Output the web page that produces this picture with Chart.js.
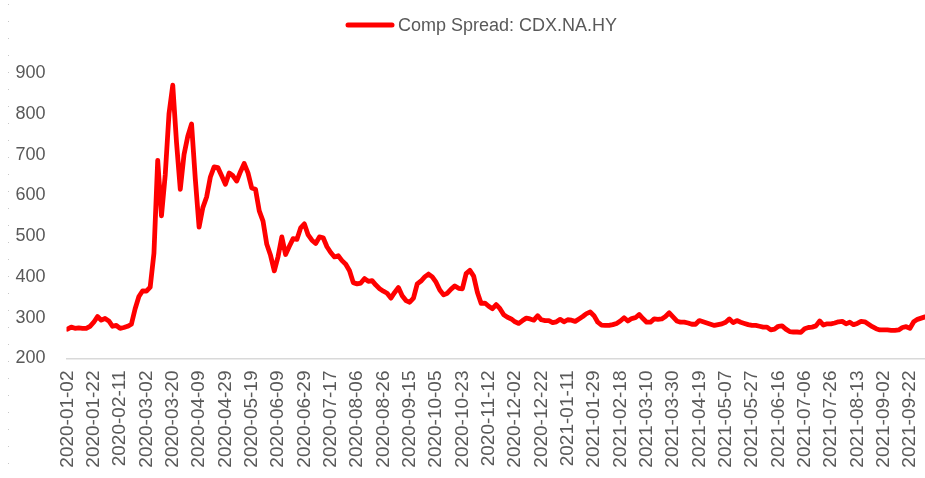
<!DOCTYPE html>
<html>
<head>
<meta charset="utf-8">
<script src="https://cdn.jsdelivr.net/npm/chart.js@4"></script>
<style>
  html, body { margin: 0; padding: 0; background: #ffffff; }
  #wrap { width: 925px; height: 478px; position: relative; }
</style>
</head>
<body>
<div id="wrap"><canvas id="c" width="925" height="478"></canvas></div>
<script>
// Series name
const seriesName = 'Comp Spread: CDX.NA.HY';

// X tick labels (every 7th sample, samples are every 2nd trading day)
const tickLabels = [
  '2020-01-02','2020-01-22','2020-02-11','2020-03-02','2020-03-20','2020-04-09',
  '2020-04-29','2020-05-19','2020-06-09','2020-06-29','2020-07-17','2020-08-06',
  '2020-08-26','2020-09-15','2020-10-05','2020-10-23','2020-11-12','2020-12-02',
  '2020-12-22','2021-01-11','2021-01-29','2021-02-18','2021-03-10','2021-03-30',
  '2021-04-19','2021-05-07','2021-05-27','2021-06-16','2021-07-06','2021-07-26',
  '2021-08-13','2021-09-02','2021-09-22'
];
const samplesPerTick = 7;

// Y axis ticks
const yTicks = [200, 300, 400, 500, 600, 700, 800, 900];

// Spread values (bp), one per 2 trading days
const spreadValues = [
  272,277,274,275,274,274,279,289,303,294,298,292,279,281,274,276,279,284,322,352,
  366,365,375,458,686,550,650,800,870,730,615,700,745,775,640,522,570,596,645,670,
  668,648,627,655,648,635,658,678,655,618,615,562,537,480,453,415,450,498,455,475,
  494,492,520,530,503,490,482,498,496,474,460,449,452,440,431,415,386,383,385,396,
  389,391,380,371,365,360,348,362,374,354,342,338,348,383,390,400,407,400,387,368,
  356,360,370,378,372,371,408,416,402,362,335,336,328,322,332,322,307,301,297,290,
  286,293,299,297,294,305,295,293,293,288,290,296,290,295,294,291,297,303,310,314,
  305,289,282,281,281,283,286,292,300,292,298,300,308,298,289,289,297,296,297,303,
  312,302,292,289,289,287,284,284,293,290,287,284,281,283,285,289,297,288,293,289,
  286,283,281,281,279,277,277,270,272,279,280,272,266,265,265,264,273,276,277,280,
  292,282,285,285,287,290,291,285,289,283,286,291,290,284,278,273,270,270,270,269,
  269,270,276,278,274,290,296,299,302
];

const FONT = "'Liberation Sans', Arial, sans-serif";
const TEXT_COLOR = '#595959';
const LINE_COLOR = '#ff0000';

const points = spreadValues.map((v, i) => ({ x: i, y: v }));

const legendPlugin = {
  id: 'customLegend',
  afterDraw(chart) {
    const ctx = chart.ctx;
    ctx.save();
    // dotted border on left edge (as in the reference screenshot)
    ctx.strokeStyle = '#c8c8c8';
    ctx.lineWidth = 1;
    ctx.setLineDash([1, 16]);
    ctx.beginPath();
    ctx.moveTo(8.5, 4);
    ctx.lineTo(8.5, 478);
    ctx.stroke();
    ctx.setLineDash([]);
    // legend
    ctx.strokeStyle = LINE_COLOR;
    ctx.lineWidth = 5;
    ctx.lineCap = 'round';
    ctx.beginPath();
    ctx.moveTo(348, 25);
    ctx.lineTo(392, 25);
    ctx.stroke();
    ctx.fillStyle = TEXT_COLOR;
    ctx.font = '18px ' + FONT;
    ctx.textBaseline = 'middle';
    ctx.textAlign = 'left';
    ctx.fillText(seriesName, 398, 26);
    ctx.restore();
  }
};

new Chart(document.getElementById('c'), {
  type: 'line',
  data: {
    datasets: [{
      label: seriesName,
      data: points,
      borderColor: LINE_COLOR,
      backgroundColor: LINE_COLOR,
      borderWidth: 4.8,
      borderJoinStyle: 'round',
      borderCapStyle: 'round',
      pointRadius: 0,
      pointHoverRadius: 0,
      tension: 0,
      fill: false
    }]
  },
  options: {
    responsive: false,
    devicePixelRatio: 1,
    animation: false,
    layout: { padding: { top: 73, left: 0, right: 0, bottom: 0 } },
    plugins: {
      legend: { display: false },
      tooltip: { enabled: false },
      title: { display: false }
    },
    scales: {
      x: {
        type: 'linear',
        min: -0.25,
        max: spreadValues.length - 1,
        grid: { display: false, drawTicks: false },
        border: { display: true, color: '#d9d9d9', width: 1.5 },
        afterBuildTicks(scale) {
          scale.ticks = tickLabels.map((_, k) => ({ value: k * samplesPerTick }));
        },
        afterFit(scale) {
          scale.height = 119.5;
          scale.paddingLeft = 0;
          scale.paddingRight = 0;
        },
        ticks: {
          autoSkip: false,
          minRotation: 90,
          maxRotation: 90,
          padding: 12,
          color: TEXT_COLOR,
          font: { family: FONT, size: 19 },
          callback: (v) => tickLabels[Math.round(v / samplesPerTick)]
        }
      },
      y: {
        type: 'linear',
        min: yTicks[0],
        max: yTicks[yTicks.length - 1],
        grid: { display: false, drawTicks: false },
        border: { display: false },
        afterBuildTicks(scale) {
          scale.ticks = yTicks.map(v => ({ value: v }));
        },
        afterFit(scale) { scale.width = 66.5; },
        ticks: {
          padding: 21,
          color: TEXT_COLOR,
          font: { family: FONT, size: 18 }
        }
      }
    }
  },
  plugins: [legendPlugin]
});
</script>
</body>
</html>
